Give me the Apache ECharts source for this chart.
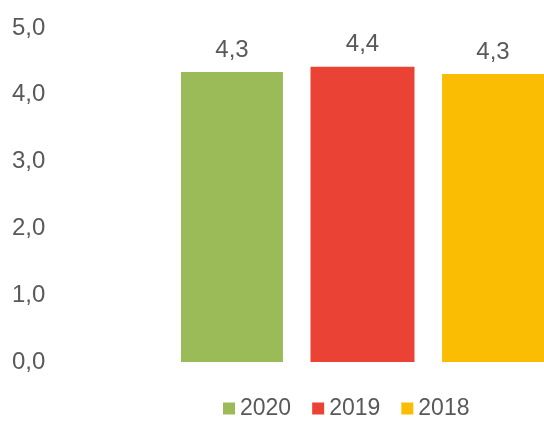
<!DOCTYPE html>
<html>
<head>
<meta charset="utf-8">
<script src="https://cdn.jsdelivr.net/npm/echarts@6/dist/echarts.min.js"></script>
<style>
  html, body { margin: 0; padding: 0; background: #fff; }
  #chart { width: 544px; height: 421px; }
</style>
</head>
<body>
<div id="chart"></div>
<script>
// series names (legend) and their values
const years = ['2020', '2019', '2018'];
const values = [4.34, 4.42, 4.31];
const colors = ['#9BBB59', '#EA4335', '#FBBC04'];
const yTicks = [0, 1, 2, 3, 4, 5];

const textColor = '#595959';
const font = 'Liberation Sans, Arial, sans-serif';

function comma(v) {
  return Number(v).toFixed(1).replace('.', ',');
}

const chart = echarts.init(document.getElementById('chart'), null, { renderer: 'canvas' });

const series = years.map((y, i) => ({
  name: y,
  type: 'bar',
  data: [values[i]],
  barWidth: 104,
  barGap: '26.5%',
  itemStyle: { color: colors[i] },
  label: {
    show: true,
    position: 'top',
    distance: 10,
    color: textColor,
    fontFamily: font,
    fontSize: 24,
    formatter: p => comma(p.value)
  }
}));

chart.setOption({
  animation: false,
  grid: { left: 181, right: -9, top: 28, bottom: 59 },
  xAxis: {
    type: 'category',
    data: [''],
    axisLine: { show: false },
    axisTick: { show: false },
    axisLabel: { show: false }
  },
  yAxis: {
    type: 'value',
    min: yTicks[0],
    max: yTicks[yTicks.length - 1],
    interval: 1,
    splitLine: { show: false },
    axisLine: { show: false },
    axisTick: { show: false },
    axisLabel: {
      margin: 169,
      align: 'left',
      color: textColor,
      fontFamily: font,
      fontSize: 24,
      formatter: v => comma(v)
    }
  },
  legend: {
    data: years,
    left: 223,
    top: 397,
    padding: 0,
    icon: 'rect',
    itemWidth: 12,
    itemHeight: 12,
    itemGap: 21,
    textStyle: { color: textColor, fontFamily: font, fontSize: 23 }
  },
  series: series
});
</script>
</body>
</html>
